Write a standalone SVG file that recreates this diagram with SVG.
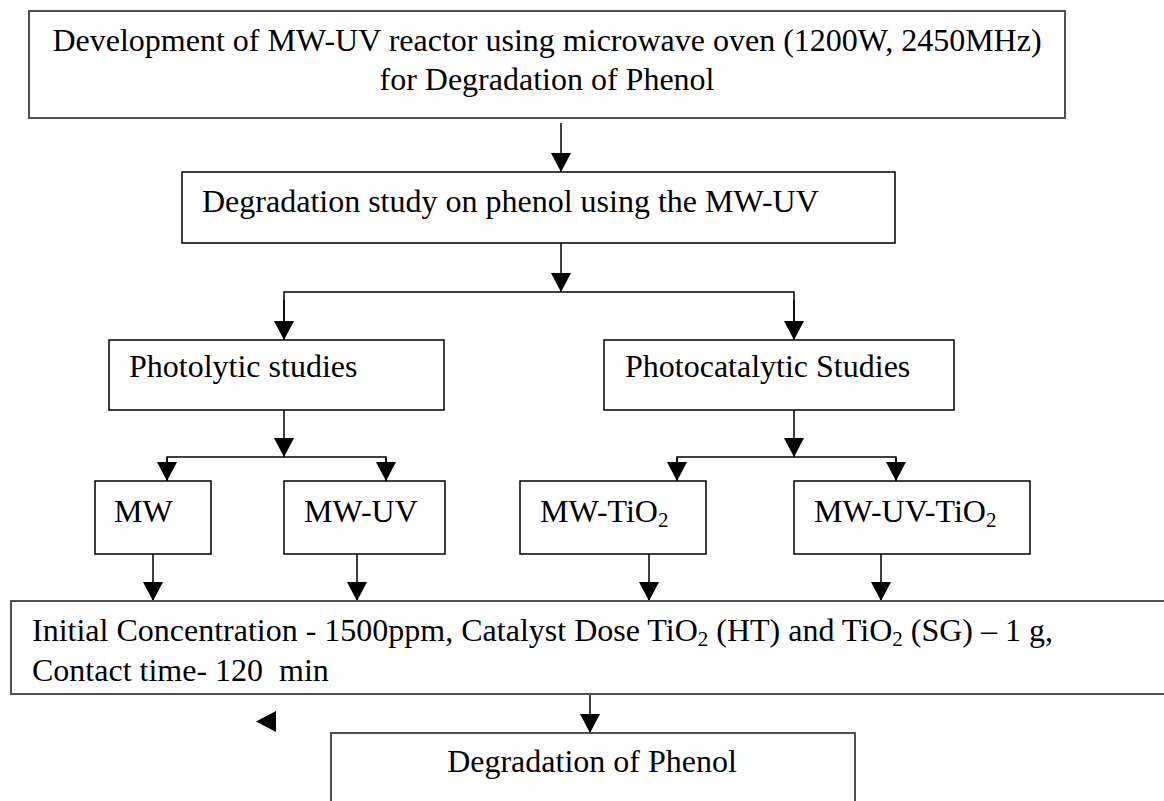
<svg xmlns="http://www.w3.org/2000/svg" width="1164" height="801" viewBox="0 0 1164 801">
<defs>
<style>
.box{fill:#fff;stroke:#000;stroke-width:1.5}
.gbox{fill:#fff;stroke:#505050;stroke-width:2}
.t{font-family:"Liberation Serif","Times New Roman",serif;font-size:32px;fill:#000}
.c{text-anchor:middle}
.ln{fill:none;stroke:#000;stroke-width:1.5}
</style>
<marker id="ah" markerUnits="userSpaceOnUse" markerWidth="20" markerHeight="20" refX="19" refY="10" orient="auto">
<path d="M0,0 L19,10 L0,20 z" fill="#000"/>
</marker>
</defs>
<rect width="1164" height="801" fill="#fff"/>
<g id="connectors">
<line class="ln" x1="561" y1="123" x2="561" y2="172" marker-end="url(#ah)"/>
<line class="ln" x1="561" y1="243" x2="561" y2="292" marker-end="url(#ah)"/>
<polyline class="ln" points="284,340 284,292 794,292 794,340"/>
<line class="ln" x1="284" y1="300" x2="284" y2="340" marker-end="url(#ah)"/>
<line class="ln" x1="794" y1="300" x2="794" y2="340" marker-end="url(#ah)"/>
<line class="ln" x1="284" y1="410" x2="284" y2="457" marker-end="url(#ah)"/>
<polyline class="ln" points="167,481 167,457 386,457 386,481"/>
<line class="ln" x1="167" y1="458" x2="167" y2="481" marker-end="url(#ah)"/>
<line class="ln" x1="386" y1="458" x2="386" y2="481" marker-end="url(#ah)"/>
<line class="ln" x1="794" y1="410" x2="794" y2="457" marker-end="url(#ah)"/>
<polyline class="ln" points="677,481 677,457 896,457 896,481"/>
<line class="ln" x1="677" y1="458" x2="677" y2="481" marker-end="url(#ah)"/>
<line class="ln" x1="896" y1="458" x2="896" y2="481" marker-end="url(#ah)"/>
<line class="ln" x1="153" y1="554" x2="153" y2="601" marker-end="url(#ah)"/>
<line class="ln" x1="357" y1="554" x2="357" y2="601" marker-end="url(#ah)"/>
<line class="ln" x1="649" y1="554" x2="649" y2="601" marker-end="url(#ah)"/>
<line class="ln" x1="881" y1="554" x2="881" y2="601" marker-end="url(#ah)"/>
<line class="ln" x1="590" y1="694" x2="590" y2="733" marker-end="url(#ah)"/>
<path d="M256,721.5 L276,711 L276,732 z" fill="#000"/>
</g>
<g id="n1">
<rect class="gbox" x="29" y="11" width="1036" height="107"/>
<text class="t c" x="547" y="51">Development of MW-UV reactor using microwave oven (1200W, 2450MHz)</text>
<text class="t c" x="547" y="90">for Degradation of Phenol</text>
</g>
<g id="n2">
<rect class="box" x="182" y="172" width="713" height="71"/>
<text class="t" x="202" y="212">Degradation study on phenol using the MW-UV</text>
</g>
<g id="n3">
<rect class="box" x="109" y="340" width="335" height="70"/>
<text class="t" x="129" y="377">Photolytic studies</text>
</g>
<g id="n4">
<rect class="box" x="604" y="340" width="350" height="70"/>
<text class="t" x="625" y="377">Photocatalytic Studies</text>
</g>
<g id="n5">
<rect class="box" x="95" y="481" width="116" height="73"/>
<text class="t" x="114" y="522">MW</text>
</g>
<g id="n6">
<rect class="box" x="284" y="481" width="161" height="73"/>
<text class="t" x="304" y="522">MW-UV</text>
</g>
<g id="n7">
<rect class="box" x="520" y="481" width="186" height="73"/>
<text class="t" x="540" y="522">MW-TiO<tspan font-size="21" dy="5">2</tspan></text>
</g>
<g id="n8">
<rect class="box" x="794" y="481" width="236" height="73"/>
<text class="t" x="814" y="522">MW-UV-TiO<tspan font-size="21" dy="5">2</tspan></text>
</g>
<g id="n9">
<rect class="gbox" x="11" y="601" width="1170" height="93"/>
<text class="t" x="32" y="641">Initial Concentration - 1500ppm, Catalyst Dose TiO<tspan font-size="21" dy="5">2</tspan><tspan dy="-5"> (HT) and TiO</tspan><tspan font-size="21" dy="5">2</tspan><tspan dy="-5"> (SG) – 1 g,</tspan></text>
<text class="t" x="32" y="681" xml:space="preserve">Contact time- 120  min</text>
</g>
<g id="n10">
<rect class="gbox" x="331" y="733" width="524" height="90"/>
<text class="t c" x="592" y="772">Degradation of Phenol</text>
</g>
</svg>
